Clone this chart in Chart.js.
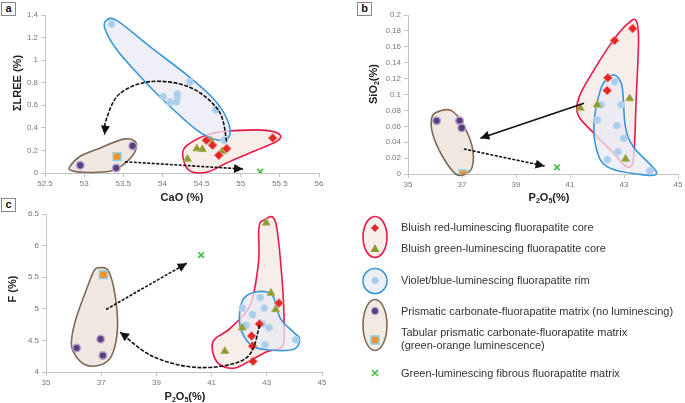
<!DOCTYPE html>
<html>
<head>
<meta charset="utf-8">
<script src="https://cdn.jsdelivr.net/npm/chart.js@4.4.1/dist/chart.umd.min.js"></script>
<style>
  body { margin: 0; background: #fff; width: 685px; height: 403px; position: relative; overflow: hidden;
         font-family: "Liberation Sans", Arial, sans-serif; }
  canvas { position: absolute; }
  .ttl { position: absolute; font-weight: bold; font-size: 11px; color: #222; white-space: nowrap;
         transform: translate(-50%, -50%); }
  .rot { transform: translate(-50%, -50%) rotate(-90deg); }
  sub { font-size: 7px; vertical-align: -2px; line-height: 0; }
  .tag { position: absolute; width: 13px; height: 12px; border: 1px solid #888; font-weight: bold;
         font-size: 11px; line-height: 11px; text-align: center; color: #111; background: #fff; }
  .lg { position: absolute; left: 401px; font-size: 11px; color: #333; white-space: nowrap;
        transform: translateY(-50%); line-height: 13px; }
</style>
</head>
<body>
<canvas id="chA" width="340" height="200" style="left:0;top:0"></canvas>
<canvas id="chB" width="345" height="200" style="left:340px;top:0"></canvas>
<canvas id="chC" width="340" height="203" style="left:0;top:200px"></canvas>

<div class="tag" style="left:1px;top:2px">a</div>
<div class="tag" style="left:357px;top:2px">b</div>
<div class="tag" style="left:1px;top:198px">c</div>

<div class="ttl" style="left:182px;top:197px">CaO (%)</div>
<div class="ttl rot" style="left:17px;top:83px">ΣLREE (%)</div>
<div class="ttl rot" style="left:373px;top:84px">SiO<sub>2</sub>(%)</div>
<div class="ttl" style="left:549px;top:197px">P<sub>2</sub>O<sub>5</sub>(%)</div>
<div class="ttl rot" style="left:12px;top:289px">F (%)</div>
<div class="ttl" style="left:185px;top:396px">P<sub>2</sub>O<sub>5</sub>(%)</div>

<svg style="position:absolute;left:340px;top:195px" width="70" height="200">
  <ellipse cx="35" cy="42" rx="12" ry="20.5" fill="#f8efea" stroke="#e8194a" stroke-width="1.6"/>
  <polygon points="35,29 39,33 35,37 31,33" fill="#e2272b"/>
  <polygon points="35,49 39.5,57 30.5,57" fill="#8c9b2e"/>
  <ellipse cx="35" cy="86" rx="12" ry="12.5" fill="#efeff6" stroke="#3a97d6" stroke-width="1.6"/>
  <circle cx="35" cy="85.5" r="3.5" fill="#a9cdea"/>
  <ellipse cx="35" cy="130" rx="12" ry="25.5" fill="#f1ebe4" stroke="#7d6a5a" stroke-width="1.6"/>
  <circle cx="35" cy="116" r="3.6" fill="#5b3f7d" stroke="#b3a3cf" stroke-width="1.3"/>
  <rect x="31" y="141" width="8" height="8" fill="#f2922a" stroke="#8ccfe9" stroke-width="1.5"/>
  <path d="M32,175 L38,181 M38,175 L32,181" stroke="#3fbf3f" stroke-width="1.6"/>
</svg>
<div class="lg" style="top:227px">Bluish red-luminescing fluorapatite core</div>
<div class="lg" style="top:248px">Bluish green-luminescing fluorapatite core</div>
<div class="lg" style="top:280px">Violet/blue-luminescing fluorapatite rim</div>
<div class="lg" style="top:311px">Prismatic carbonate-fluorapatite matrix (no luminescing)</div>
<div class="lg" style="top:339px">Tabular prismatic carbonate-fluorapatite matrix<br>(green-orange luminescence)</div>
<div class="lg" style="top:373px">Green-luminescing fibrous fluorapatite matrix</div>

<script>
  /* ── Data: panel a (CaO vs ΣLREE) ──────────────────────────────── */
  const A_XTICKS = [52.5, 53, 53.5, 54, 54.5, 55, 55.5, 56];
  const A_YTICKS = [0, 0.2, 0.4, 0.6, 0.8, 1, 1.2, 1.4];
  const A_RED = [[54.56, 0.29], [54.64, 0.245], [54.72, 0.157], [54.82, 0.216], [55.41, 0.31]];
  const A_GREEN = [[54.32, 0.124], [54.44, 0.216], [54.51, 0.21], [54.62, 0.286], [54.76, 0.19]];
  const A_BLUE = [[53.35, 1.32], [54.35, 0.806], [54.01, 0.676], [54.10, 0.63], [54.18, 0.63],
                  [54.19, 0.68], [54.19, 0.70], [54.68, 0.56], [54.79, 0.29]];
  const A_PURPLE = [[52.95, 0.068], [53.41, 0.044], [53.62, 0.24]];
  const A_ORANGE = [[53.42, 0.145]];
  const A_FIBROUS = [[55.25, 0.012]];
  const A_ENV_BLUE = [[53.28, 1.35], [53.42, 1.35], [53.84, 1.12], [54.31, 0.87], [54.65, 0.66], [54.83, 0.47],
                      [54.85, 0.32], [54.69, 0.295], [54.44, 0.38], [54.05, 0.62], [53.71, 0.86], [53.42, 1.09], [53.27, 1.27]];
  const A_ENV_RED = [[54.26, 0.19], [54.39, 0.28], [54.65, 0.354], [54.99, 0.378], [55.33, 0.378], [55.50, 0.34],
                     [55.46, 0.28], [55.16, 0.19], [54.82, 0.089], [54.56, 0.006], [54.33, 0.03]];
  const A_ENV_BROWN = [[52.82, 0.059], [52.95, 0.148], [53.20, 0.22], [53.50, 0.30], [53.65, 0.28], [53.65, 0.19],
                       [53.50, 0.074], [53.33, 0.015], [52.99, 0.006], [52.83, 0.024]];
  const A_ARROW_1 = [[54.82, 0.28], [54.72, 0.55], [54.35, 0.76], [53.85, 0.81], [53.45, 0.70], [53.28, 0.47], [53.26, 0.34]];
  const A_ARROW_2 = [[53.52, 0.10], [55.03, 0.035]];

  /* ── Data: panel b (P2O5 vs SiO2) ──────────────────────────────── */
  const B_XTICKS = [35, 37, 39, 41, 43, 45];
  const B_YTICKS = [0, 0.02, 0.04, 0.06, 0.08, 0.1, 0.12, 0.14, 0.16, 0.18, 0.2];
  const B_RED = [[43.32, 0.183], [42.65, 0.168], [42.40, 0.121], [42.38, 0.105]];
  const B_GREEN = [[41.38, 0.083], [42.01, 0.087], [43.21, 0.095], [43.06, 0.019]];
  const B_BLUE = [[42.65, 0.116], [42.16, 0.087], [42.89, 0.087], [42.01, 0.068], [42.74, 0.061],
                  [42.99, 0.045], [42.78, 0.028], [42.38, 0.018], [43.96, 0.004]];
  const B_PURPLE = [[36.06, 0.067], [36.91, 0.067], [36.99, 0.058]];
  const B_ORANGE = [[37.04, 0.0]];
  const B_FIBROUS = [[40.52, 0.0084]];
  const B_ENV_RED = [[43.45, 0.193], [43.54, 0.169], [43.45, 0.093], [43.38, 0.030], [43.29, 0.0105], [43.01, 0.011],
                     [42.62, 0.026], [41.89, 0.051], [41.30, 0.074], [41.34, 0.097], [41.89, 0.131], [42.62, 0.169], [43.17, 0.19]];
  const B_ENV_BLUE = [[42.68, 0.124], [42.93, 0.110], [43.05, 0.060], [43.35, 0.034], [44.21, 0.0017], [43.48, 0.0],
                      [42.38, 0.009], [41.99, 0.030], [41.89, 0.064], [42.13, 0.106], [42.44, 0.122]];
  const B_ENV_BROWN = [[36.16, 0.079], [36.59, 0.080], [37.01, 0.064], [37.38, 0.034], [37.38, 0.009], [37.13, 0.0],
                       [36.77, 0.0], [36.28, 0.022], [35.91, 0.051], [35.89, 0.072]];
  const B_ARROW_1 = [[41.52, 0.089], [37.68, 0.045]];
  const B_ARROW_2 = [[37.07, 0.0315], [40.06, 0.010]];

  /* ── Data: panel c (P2O5 vs F) ─────────────────────────────────── */
  const C_XTICKS = [35, 37, 39, 41, 43, 45];
  const C_YTICKS = [4, 4.5, 5, 5.5, 6, 6.5];
  const C_RED = [[43.44, 5.09], [42.73, 4.76], [42.45, 4.57], [42.48, 4.41], [42.50, 4.17]];
  const C_GREEN = [[42.98, 6.36], [43.15, 5.25], [43.32, 4.99], [42.11, 4.70], [41.48, 4.33]];
  const C_BLUE = [[42.11, 5.01], [42.76, 5.18], [42.91, 5.01], [42.48, 4.91], [42.25, 4.74],
                  [42.84, 4.76], [43.08, 4.70], [42.94, 4.43], [44.05, 4.51]];
  const C_PURPLE = [[36.11, 4.38], [36.98, 4.52], [37.06, 4.26]];
  const C_ORANGE = [[37.08, 5.54]];
  const C_FIBROUS = [[40.62, 5.85]];
  const C_ENV_RED = [[42.88, 6.40], [43.31, 6.38], [43.55, 5.48], [43.63, 4.69], [43.55, 4.40], [43.00, 4.32],
                     [42.52, 4.21], [41.80, 4.06], [41.19, 4.16], [41.05, 4.48], [41.67, 4.69], [42.40, 5.06],
                     [42.70, 5.74], [42.71, 6.27]];
  const C_ENV_BLUE = [[42.16, 5.16], [42.64, 5.27], [43.19, 5.22], [43.49, 4.85], [43.97, 4.63], [44.19, 4.53],
                      [44.03, 4.37], [43.37, 4.34], [42.52, 4.40], [42.10, 4.63], [42.01, 4.90]];
  const C_ENV_BROWN = [[36.96, 5.65], [37.26, 5.60], [37.50, 5.22], [37.59, 4.69], [37.38, 4.26], [36.96, 4.11],
                       [36.35, 4.13], [35.93, 4.40], [36.05, 4.79], [36.48, 5.32], [36.75, 5.61]];
  const C_ARROW_1 = [[37.18, 4.99], [40.10, 5.72]];
  const C_ARROW_2 = [[42.74, 4.74], [42.25, 4.22], [40.6, 4.07], [38.9, 4.24], [37.68, 4.63]];

  /* ── Styles ────────────────────────────────────────────────────── */
  const RED = { pointStyle: "rectRot", pointRadius: 4.5, pointBackgroundColor: "#e2272b", pointBorderColor: "#f08a80", pointBorderWidth: 1 };
  const GREEN = { pointStyle: "triangle", pointRadius: 4.5, pointBackgroundColor: "#8c9b2e", pointBorderColor: "#a3ae55", pointBorderWidth: 1 };
  const BLUE = { pointStyle: "circle", pointRadius: 3.5, pointBackgroundColor: "#a9cdea", pointBorderColor: "#bcd8ef", pointBorderWidth: 1 };
  const PURPLE = { pointStyle: "circle", pointRadius: 3.8, pointBackgroundColor: "#5b3f7d", pointBorderColor: "#b3a3cf", pointBorderWidth: 1.5 };
  const ORANGE = { pointStyle: "rect", pointRadius: 5.5, pointBackgroundColor: "#f2922a", pointBorderColor: "#8ccfe9", pointBorderWidth: 1.5 };
  const FIBROUS = { pointStyle: "crossRot", pointRadius: 4, pointBackgroundColor: "#3fbf3f", pointBorderColor: "#3fbf3f", pointBorderWidth: 1.6 };

  const ENV_RED = { stroke: "#e8194a", fill: "rgba(246,232,226,0.75)" };
  const ENV_BLUE = { stroke: "#3a97d6", fill: "rgba(234,234,244,0.75)" };
  const ENV_BROWN = { stroke: "#7d6a5a", fill: "rgba(238,231,223,0.9)" };

  /* ── Helpers ───────────────────────────────────────────────────── */
  function ds(pts, style) {
    return Object.assign({ data: pts.map(function (p) { return { x: p[0], y: p[1] }; }), showLine: false }, style);
  }

  function closedSpline(ctx, p) {
    var n = p.length;
    ctx.moveTo(p[0][0], p[0][1]);
    for (var i = 0; i < n; i++) {
      var p0 = p[(i - 1 + n) % n], p1 = p[i], p2 = p[(i + 1) % n], p3 = p[(i + 2) % n];
      ctx.bezierCurveTo(p1[0] + (p2[0] - p0[0]) / 6, p1[1] + (p2[1] - p0[1]) / 6,
                        p2[0] - (p3[0] - p1[0]) / 6, p2[1] - (p3[1] - p1[1]) / 6, p2[0], p2[1]);
    }
  }

  // returns the direction into the final point
  function openSpline(ctx, p) {
    var n = p.length, dir = [p[n - 1][0] - p[n - 2][0], p[n - 1][1] - p[n - 2][1]];
    ctx.moveTo(p[0][0], p[0][1]);
    if (n === 2) { ctx.lineTo(p[1][0], p[1][1]); return dir; }
    for (var i = 0; i < n - 1; i++) {
      var p0 = p[Math.max(i - 1, 0)], p1 = p[i], p2 = p[i + 1], p3 = p[Math.min(i + 2, n - 1)];
      var c2 = [p2[0] - (p3[0] - p1[0]) / 6, p2[1] - (p3[1] - p1[1]) / 6];
      ctx.bezierCurveTo(p1[0] + (p2[0] - p0[0]) / 6, p1[1] + (p2[1] - p0[1]) / 6, c2[0], c2[1], p2[0], p2[1]);
      if (i === n - 2) dir = [p2[0] - c2[0], p2[1] - c2[1]];
    }
    return dir;
  }

  const decor = {
    id: "decor",
    beforeDatasetsDraw: function (chart, args, opts) {
      var ctx = chart.ctx, x = chart.scales.x, y = chart.scales.y;
      (opts.envelopes || []).forEach(function (e) {
        var pts = e.pts.map(function (p) { return [x.getPixelForValue(p[0]), y.getPixelForValue(p[1])]; });
        ctx.save();
        ctx.beginPath();
        closedSpline(ctx, pts);
        ctx.closePath();
        ctx.fillStyle = e.style.fill;
        ctx.fill();
        ctx.lineWidth = 1.6;
        ctx.strokeStyle = e.style.stroke;
        ctx.stroke();
        ctx.restore();
      });
    },
    afterDatasetsDraw: function (chart, args, opts) {
      var ctx = chart.ctx, x = chart.scales.x, y = chart.scales.y;
      (opts.arrows || []).forEach(function (a) {
        var pts = a.pts.map(function (p) { return [x.getPixelForValue(p[0]), y.getPixelForValue(p[1])]; });
        ctx.save();
        ctx.strokeStyle = "#111";
        ctx.lineWidth = 1.6;
        ctx.setLineDash(a.dash || []);
        ctx.beginPath();
        var d = openSpline(ctx, pts);
        ctx.stroke();
        var len = Math.hypot(d[0], d[1]), ux = d[0] / len, uy = d[1] / len;
        var tip = pts[pts.length - 1], hl = 9, hw = 4.5;
        ctx.setLineDash([]);
        ctx.fillStyle = "#111";
        ctx.beginPath();
        ctx.moveTo(tip[0], tip[1]);
        ctx.lineTo(tip[0] - ux * hl - uy * hw, tip[1] - uy * hl + ux * hw);
        ctx.lineTo(tip[0] - ux * hl + uy * hw, tip[1] - uy * hl - ux * hw);
        ctx.closePath();
        ctx.fill();
        ctx.restore();
      });
    },
  };

  function axis(ticks, horizontal, size) {
    return {
      type: "linear",
      min: ticks[0],
      max: ticks[ticks.length - 1],
      border: { color: "#c4c4c4", width: 1 },
      grid: { drawOnChartArea: false, tickLength: 4, color: "#c4c4c4" },
      ticks: {
        color: "#777",
        font: { size: 8, family: "'Liberation Sans', Arial, sans-serif" },
        padding: horizontal ? 2 : 3,
        autoSkip: false,
        maxRotation: 0,
        callback: function (v) { return String(+v.toFixed(3)); },
      },
      afterBuildTicks: function (s) { s.ticks = ticks.map(function (v) { return { value: v }; }); },
      afterFit: function (s) {
        if (horizontal) s.height = size; else s.width = size;
        s.paddingLeft = s.paddingRight = s.paddingTop = s.paddingBottom = 0;
      },
    };
  }

  function panel(id, cfg) {
    return new Chart(document.getElementById(id), {
      type: "scatter",
      data: { datasets: cfg.sets },
      options: {
        responsive: false,
        animation: false,
        events: [],
        layout: { padding: cfg.pad },
        plugins: {
          legend: { display: false },
          tooltip: { enabled: false },
          decor: { envelopes: cfg.env, arrows: cfg.arrows },
        },
        scales: { x: axis(cfg.xTicks, true, cfg.xH), y: axis(cfg.yTicks, false, cfg.yW) },
      },
      plugins: [decor],
    });
  }

  /* ── Render ────────────────────────────────────────────────────── */
  panel("chA", {
    xTicks: A_XTICKS, yTicks: A_YTICKS, xH: 27, yW: 45,
    pad: { left: 0, top: 15, right: 21, bottom: 0 },
    sets: [ds(A_RED, RED), ds(A_GREEN, GREEN), ds(A_BLUE, BLUE), ds(A_PURPLE, PURPLE), ds(A_ORANGE, ORANGE), ds(A_FIBROUS, FIBROUS)],
    env: [{ pts: A_ENV_BROWN, style: ENV_BROWN }, { pts: A_ENV_RED, style: ENV_RED }, { pts: A_ENV_BLUE, style: ENV_BLUE }],
    arrows: [{ pts: A_ARROW_1, dash: [4, 1.5] }, { pts: A_ARROW_2, dash: [3, 1.5] }],
  });

  panel("chB", {
    xTicks: B_XTICKS, yTicks: B_YTICKS, xH: 26, yW: 68,
    pad: { left: 0, top: 15, right: 3, bottom: 0 },
    sets: [ds(B_RED, RED), ds(B_GREEN, GREEN), ds(B_BLUE, BLUE), ds(B_PURPLE, PURPLE), ds(B_ORANGE, ORANGE), ds(B_FIBROUS, FIBROUS)],
    env: [{ pts: B_ENV_BROWN, style: ENV_BROWN }, { pts: B_ENV_RED, style: ENV_RED }, { pts: B_ENV_BLUE, style: ENV_BLUE }],
    arrows: [{ pts: B_ARROW_1, dash: [] }, { pts: B_ARROW_2, dash: [3, 1.5] }],
  });

  panel("chC", {
    xTicks: C_XTICKS, yTicks: C_YTICKS, xH: 31, yW: 46,
    pad: { left: 0, top: 14, right: 18, bottom: 0 },
    sets: [ds(C_RED, RED), ds(C_GREEN, GREEN), ds(C_BLUE, BLUE), ds(C_PURPLE, PURPLE), ds(C_ORANGE, ORANGE), ds(C_FIBROUS, FIBROUS)],
    env: [{ pts: C_ENV_BROWN, style: ENV_BROWN }, { pts: C_ENV_RED, style: ENV_RED }, { pts: C_ENV_BLUE, style: ENV_BLUE }],
    arrows: [{ pts: C_ARROW_1, dash: [3, 1.5] }, { pts: C_ARROW_2, dash: [4, 1.5] }],
  });
</script>
</body>
</html>
